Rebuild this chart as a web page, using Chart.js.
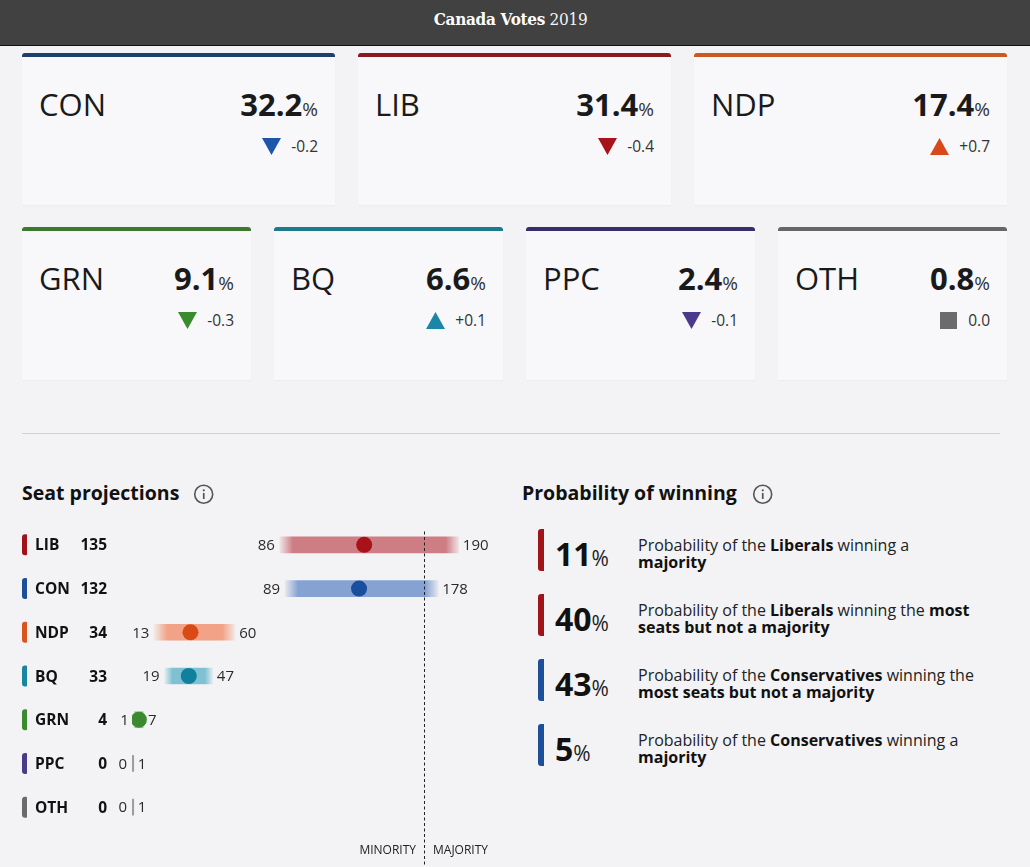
<!DOCTYPE html>
<html><head><meta charset="utf-8">
<script src="https://cdn.jsdelivr.net/npm/chart.js@4"></script>
<style>
html,body{margin:0;padding:0;}
body{width:1030px;height:867px;overflow:hidden;background:#f3f3f5;font-family:"Open Sans",sans-serif;color:#1a1a1a;position:relative;}
#hdr{position:absolute;left:0;top:0;width:1030px;height:45px;background:#414141;border-bottom:1.5px solid #111;}
#title{position:absolute;left:0;width:1021px;top:9px;text-align:center;color:#fff;font-family:"DejaVu Serif Condensed","DejaVu Serif",serif;font-size:17px;line-height:20px;letter-spacing:-0.3px;}
#title b{font-weight:700;}
#title span{font-weight:400;opacity:0.95;}
.card{position:absolute;background:#f8f8fa;box-shadow:0 1px 1px rgba(0,0,0,0.025);}
.card .tb{position:absolute;left:0;top:0;right:0;height:3.5px;border-radius:3px 3px 0 0;}
.card .nm{position:absolute;left:17px;top:36px;font-size:31px;line-height:1;color:#1a1a1a;white-space:nowrap;}
.card .val{position:absolute;right:17px;top:36px;font-size:31px;font-weight:700;line-height:1;color:#1a1a1a;white-space:nowrap;}
.card .val span{font-size:19px;font-weight:400;color:#333;}
.card .chg{position:absolute;right:17px;top:84px;height:18px;display:flex;align-items:center;gap:10px;font-size:15.5px;line-height:18px;color:#333;}
#divider{position:absolute;left:22px;top:433px;width:978px;height:1px;background:#d2d2d4;}
.h2{position:absolute;font-size:19.5px;font-weight:700;line-height:1;color:#111;white-space:nowrap;}
.info{position:absolute;}
#chartWrap{position:absolute;left:0;top:515px;width:510px;height:352px;}
.pi{position:absolute;left:538px;}
.pi .pb{position:absolute;left:0;top:0;width:5.5px;height:42px;border-radius:3px 0 0 3px;}
.pi .pn{position:absolute;left:17px;top:9px;font-size:32px;font-weight:700;line-height:1;color:#111;white-space:nowrap;}
.pi .pn span{font-size:21px;font-weight:400;color:#222;}
.pi .pt{position:absolute;left:100px;top:7.5px;font-size:16px;line-height:17.3px;color:#222;white-space:nowrap;}
.pi .pt b{font-weight:700;color:#111;}
</style></head>
<body>
<div id="hdr"><div id="title"><b>Canada Votes</b> <span>2019</span></div></div>
<div id="cards"></div>
<div id="divider"></div>
<div class="h2" style="left:22px;top:483px;">Seat projections</div>
<svg class="info" style="left:193px;top:484px;" width="22" height="22" viewBox="0 0 22 22"><circle cx="10.7" cy="10.3" r="9" fill="none" stroke="#555" stroke-width="1.6"/><rect x="9.9" y="9" width="1.7" height="6" fill="#555"/><circle cx="10.75" cy="6.3" r="1.1" fill="#555"/></svg>
<div class="h2" style="left:522px;top:483px;">Probability of winning</div>
<svg class="info" style="left:752px;top:484px;" width="22" height="22" viewBox="0 0 22 22"><circle cx="10.7" cy="10.3" r="9" fill="none" stroke="#555" stroke-width="1.6"/><rect x="9.9" y="9" width="1.7" height="6" fill="#555"/><circle cx="10.75" cy="6.3" r="1.1" fill="#555"/></svg>
<div id="chartWrap"><canvas id="seats" width="510" height="352"></canvas></div>
<div id="probs"></div>
<script>
// ---- data ----
const cardParties = ['CON','LIB','NDP','GRN','BQ','PPC','OTH'];
const voteShare   = [32.2, 31.4, 17.4, 9.1, 6.6, 2.4, 0.8];
const shareChange = [-0.2, -0.4, 0.7, -0.3, 0.1, -0.1, 0.0];

const seatParties = ['LIB','CON','NDP','BQ','GRN','PPC','OTH'];
const seatProjected = [135, 132, 34, 33, 4, 0, 0];
const seatLow  = [86, 89, 13, 19, 1, 0, 0];
const seatHigh = [190, 178, 60, 47, 7, 1, 1];
const majorityLine = 170;
const sideLabels = ['MINORITY','MAJORITY'];

const probValues  = [11, 40, 43, 5];
const probParty   = ['LIB','LIB','CON','CON'];
const probPartyName = ['Liberals','Liberals','Conservatives','Conservatives'];
const probLine1Rest = [' winning a', ' winning the ', ' winning the', ' winning a'];
const probLine1Bold = ['', 'most', '', ''];
const probLine2   = ['majority', 'seats but not a majority', 'most seats but not a majority', 'majority'];

// ---- styles ----
const topBorder = {CON:'#1d3f6b',LIB:'#8a1a1e',NDP:'#c95b20',GRN:'#3b7a2c',BQ:'#1c7a8a',PPC:'#392c6a',OTH:'#666666'};
const markColor = {CON:'#1a4f9f',LIB:'#a8121b',NDP:'#da4a15',GRN:'#3b8a2f',BQ:'#11809f',PPC:'#4a3b8a',OTH:'#6b6b6b'};
const arrowColor = {CON:'#1c55aa',LIB:'#a8121b',NDP:'#d9481a',GRN:'#3a8a2e',BQ:'#1b87a6',PPC:'#4b3a8c',OTH:'#6b6b6b'};
const pillColor = {CON:'#1c4e9a',LIB:'#a01419',NDP:'#d9541e',GRN:'#3a8a2e',BQ:'#1786a0',PPC:'#4a3b8a',OTH:'#6b6b6b'};
const rangeColor = {LIB:[207,125,132],CON:[134,162,210],NDP:[242,162,134],BQ:[127,193,211],GRN:[140,194,126],PPC:[160,160,160],OTH:[160,160,160]};

// ---- cards ----
const cardsEl = document.getElementById('cards');
cardParties.forEach((p,i)=>{
  const row = i<3 ? 0 : 1;
  const col = row===0 ? i : i-3;
  const w = row===0 ? 313 : 229;
  const left = 22 + col*(w+23);
  const top = row===0 ? 53 : 227;
  const h = row===0 ? 152 : 153;
  const ch = shareChange[i];
  let icon;
  const c = arrowColor[p];
  if (ch < 0) icon = `<svg width="19" height="17"><polygon points="0,0 19,0 9.5,17" fill="${c}"/></svg>`;
  else if (ch > 0) icon = `<svg width="19" height="17"><polygon points="9.5,0 19,17 0,17" fill="${c}"/></svg>`;
  else icon = `<svg width="19" height="17"><rect x="1" y="0" width="17" height="17" fill="${c}"/></svg>`;
  const chTxt = (ch>0?'+':'') + ch.toFixed(1);
  const d = document.createElement('div');
  d.className='card';
  d.style.cssText = `left:${left}px;top:${top}px;width:${w}px;height:${h}px;`;
  d.innerHTML = `<div class="tb" style="background:${topBorder[p]}"></div>
    <div class="nm">${p}</div>
    <div class="val">${voteShare[i].toFixed(1)}<span>%</span></div>
    <div class="chg">${icon}<span>${chTxt}</span></div>`;
  cardsEl.appendChild(d);
});

// ---- probabilities ----
const probsEl = document.getElementById('probs');
probValues.forEach((v,i)=>{
  const d = document.createElement('div');
  d.className='pi';
  d.style.top = (529.3 + i*65) + 'px';
  const l1b = probLine1Bold[i] ? `<b>${probLine1Bold[i]}</b>` : '';
  d.innerHTML = `<div class="pb" style="background:${pillColor[probParty[i]]}"></div>
    <div class="pn">${v}<span>%</span></div>
    <div class="pt">Probability of the <b>${probPartyName[i]}</b>${probLine1Rest[i]}${l1b}<br><b>${probLine2[i]}</b></div>`;
  probsEl.appendChild(d);
});

// ---- seat chart ----
function rgba(c,a){return `rgba(${c[0]},${c[1]},${c[2]},${a})`;}
function barFill(ctx){
  const p = seatParties[ctx.dataIndex];
  const base = rangeColor[p] || [160,160,160];
  if (ctx.type !== 'data') return rgba(base,1);
  const chart = ctx.chart, xs = chart.scales.x;
  if (!xs || !chart.chartArea) return rgba(base,1);
  const lo = seatLow[ctx.dataIndex], hi = seatHigh[ctx.dataIndex];
  const x0 = xs.getPixelForValue(lo), x1 = xs.getPixelForValue(hi);
  const len = x1 - x0;
  if (len < 5) return '#9d9d9d';
  const f = Math.min(13, len*0.16)/len;
  const g = chart.ctx.createLinearGradient(x0,0,x1,0);
  g.addColorStop(0, rgba(base,0.12));
  g.addColorStop(f, rgba(base,1));
  g.addColorStop(1-f, rgba(base,1));
  g.addColorStop(1, rgba(base,0.12));
  return g;
}

const labelPlugin = {
  id:'seatLabels',
  afterDatasetsDraw(chart){
    const {ctx} = chart;
    const xs = chart.scales.x, ys = chart.scales.y;
    ctx.save();
    const mx = Math.round(xs.getPixelForValue(majorityLine)) + 0.5;
    ctx.strokeStyle = '#222';
    ctx.lineWidth = 1;
    ctx.setLineDash([3,2.5]);
    ctx.beginPath();
    ctx.moveTo(mx, 16.5);
    ctx.lineTo(mx, chart.height);
    ctx.stroke();
    ctx.setLineDash([]);
    seatParties.forEach((p,i)=>{
      const y = ys.getPixelForValue(i);
      ctx.fillStyle = pillColor[p];
      ctx.beginPath();
      ctx.roundRect(22, y-10.5, 5, 21, [3,1,1,3]);
      ctx.fill();
      ctx.fillStyle = '#111';
      ctx.font = '700 15.5px "Open Sans"';
      ctx.textAlign = 'left';
      ctx.textBaseline = 'alphabetic';
      ctx.fillText(p, 35, y + 0.357*15.5);
      ctx.textAlign = 'right';
      ctx.fillText(String(seatProjected[i]), 107, y + 0.357*15.5);
      ctx.font = '400 15px "Open Sans"';
      ctx.fillStyle = '#2a2a2a';
      ctx.textAlign = 'right';
      ctx.fillText(String(seatLow[i]), xs.getPixelForValue(seatLow[i]) - 5, y + 0.357*15);
      ctx.textAlign = 'left';
      ctx.fillText(String(seatHigh[i]), xs.getPixelForValue(seatHigh[i]) + 4, y + 0.357*15);
    });
    ctx.font = '400 12px "Open Sans"';
    ctx.fillStyle = '#222';
    ctx.textAlign = 'right';
    ctx.fillText(sideLabels[0], mx - 8.5, 339);
    ctx.textAlign = 'left';
    ctx.fillText(sideLabels[1], mx + 8.5, 339);
    ctx.restore();
  }
};

new Chart(document.getElementById('seats'), {
  type: 'bar',
  data: {
    labels: seatParties,
    datasets: [
      {
        type: 'line',
        label: 'Projected',
        data: seatParties.map((p,i)=>({x: seatProjected[i], y: p})),
        showLine: false,
        pointRadius: ctx => (seatProjected[ctx.dataIndex] > 0 ? 8 : 0),
        pointHoverRadius: 0,
        pointBorderWidth: 0,
        pointBackgroundColor: seatParties.map(p=>markColor[p]),
        pointBorderColor: 'rgba(0,0,0,0)',
        order: 0
      },
      {
        type: 'bar',
        label: 'Range',
        data: seatParties.map((p,i)=>[seatLow[i], seatHigh[i]]),
        backgroundColor: barFill,
        borderWidth: 0,
        barThickness: 16,
        order: 1
      }
    ]
  },
  options: {
    indexAxis: 'y',
    responsive: false,
    animation: false,
    events: [],
    layout: { padding: { left: 132, right: 34, top: 6, bottom: 38 } },
    scales: {
      x: { type: 'linear', min: 0, max: 200, display: false },
      y: { type: 'category', labels: seatParties, display: false, offset: true }
    },
    plugins: { legend: { display: false }, tooltip: { enabled: false } }
  },
  plugins: [labelPlugin]
});
</script>
</body></html>
